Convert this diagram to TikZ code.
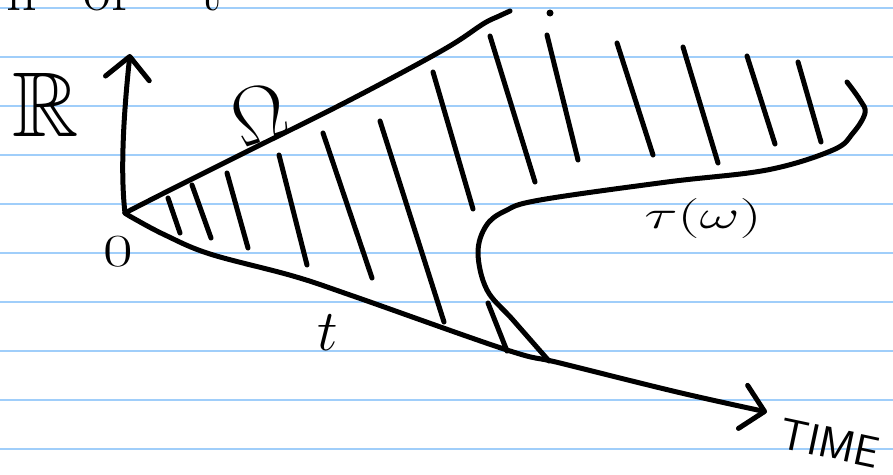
\RequirePackage{fix-cm}
\documentclass[tikz,border=0pt]{standalone}
\usepackage{amssymb}
\usepackage{xcolor}
\usepackage{tikz}
\usetikzlibrary{arrows.meta}
\definecolor{ruleblue}{RGB}{160,206,250}
\tikzset{
  ruled/.style={
    draw=ruleblue,
    line width=2pt
  },
  pen/.style={
    draw=black,
    line width=5pt,
    line cap=round,
    line join=round
  },
  penarrow/.style={pen, -{Straight Barb[length=22pt, width=44pt, round]}},
  hand/.style={
    inner sep=0pt,
    outer sep=0pt
  }
}

\begin{document}
\begin{tikzpicture}[x=1pt, y=-1pt]
  \useasboundingbox (0,0) rectangle (893,474);
  \clip (0,0) rectangle (893,474);
  \fill[white] (0,0) rectangle (893,474);
  \foreach \y in {8,57,...,449}
    \draw[ruled] (0,\y) -- (893,\y);

  \coordinate (O) at (125,213);
  \coordinate (Rtip) at (130,54);
  \coordinate (Ttip) at (767,412);
  \coordinate (Utop) at (510,11);
  \coordinate (Tfoot) at (549,361);
  \coordinate (Thook) at (847,82);

  \node[hand, anchor=base, font=\fontsize{60}{60}\selectfont] (toph) at (22,10) {h};
  \node[hand, anchor=base, font=\fontsize{60}{60}\selectfont] (topof) at (106,10) {of};
  \node[hand, anchor=base, font=\fontsize{60}{60}\selectfont] (topt) at (211,10) {t};

  \node[hand, font=\fontsize{92}{92}\selectfont] (reals) at (46,105) {$\mathbb{R}$};
  \node[hand, font=\fontsize{46}{46}\selectfont] (zero) at (118,252) {\scalebox{1.4}[1]{$0$}};
  \node[hand, rotate=18, font=\fontsize{80}{80}\selectfont] (omega) at (259,114) {$\Omega$};
  \node[hand, font=\fontsize{58}{58}\selectfont] (tlab) at (328,333) {$t$};
  \node[hand, font=\fontsize{40}{40}\selectfont] (tau) at (703,218) {\scalebox{1.55}[1]{$\tau(\omega)$}};
  \node[hand, rotate=-12, font=\fontsize{44}{44}\selectfont\sffamily] (time) at (830,443) {TIME};

  \draw[penarrow] (O) .. controls (120,170) and (124,110) .. (Rtip);
  \draw[pen] plot[smooth, tension=0.6] coordinates {(O) (170,190) (250,150) (350,100) (443,50) (483,24) (497,17) (Utop)};
  \draw[penarrow] plot[smooth, tension=0.6] coordinates {(O) (133,218) (165,235) (210,254) (293,276) (353,296) (507,350) (560,363) (677,392) (Ttip)};
  \draw[pen] plot[smooth, tension=0.6] coordinates {(Tfoot) (513,320) (487,290) (478,253) (486,226) (505,211) (540,200) (667,182) (767,170) (833,150) (853,133) (865,113) (860,100) (Thook)};

  \draw[pen] (168,198) -- (180,233)
    (192,185) -- (211,238)
    (227,173) -- (248,248)
    (279,155) -- (307,265)
    (323,133) -- (372,278)
    (380,121) -- (444,322)
    (433,72) -- (473,209)
    (490,36) -- (535,182)
    (547,35) -- (578,160)
    (617,43) -- (653,155)
    (683,47) -- (718,163)
    (747,56) -- (775,144)
    (798,62) -- (821,142)
    (488,303) -- (507,351);
  \fill (550,13) circle (3.5pt);
\end{tikzpicture}
\end{document}
